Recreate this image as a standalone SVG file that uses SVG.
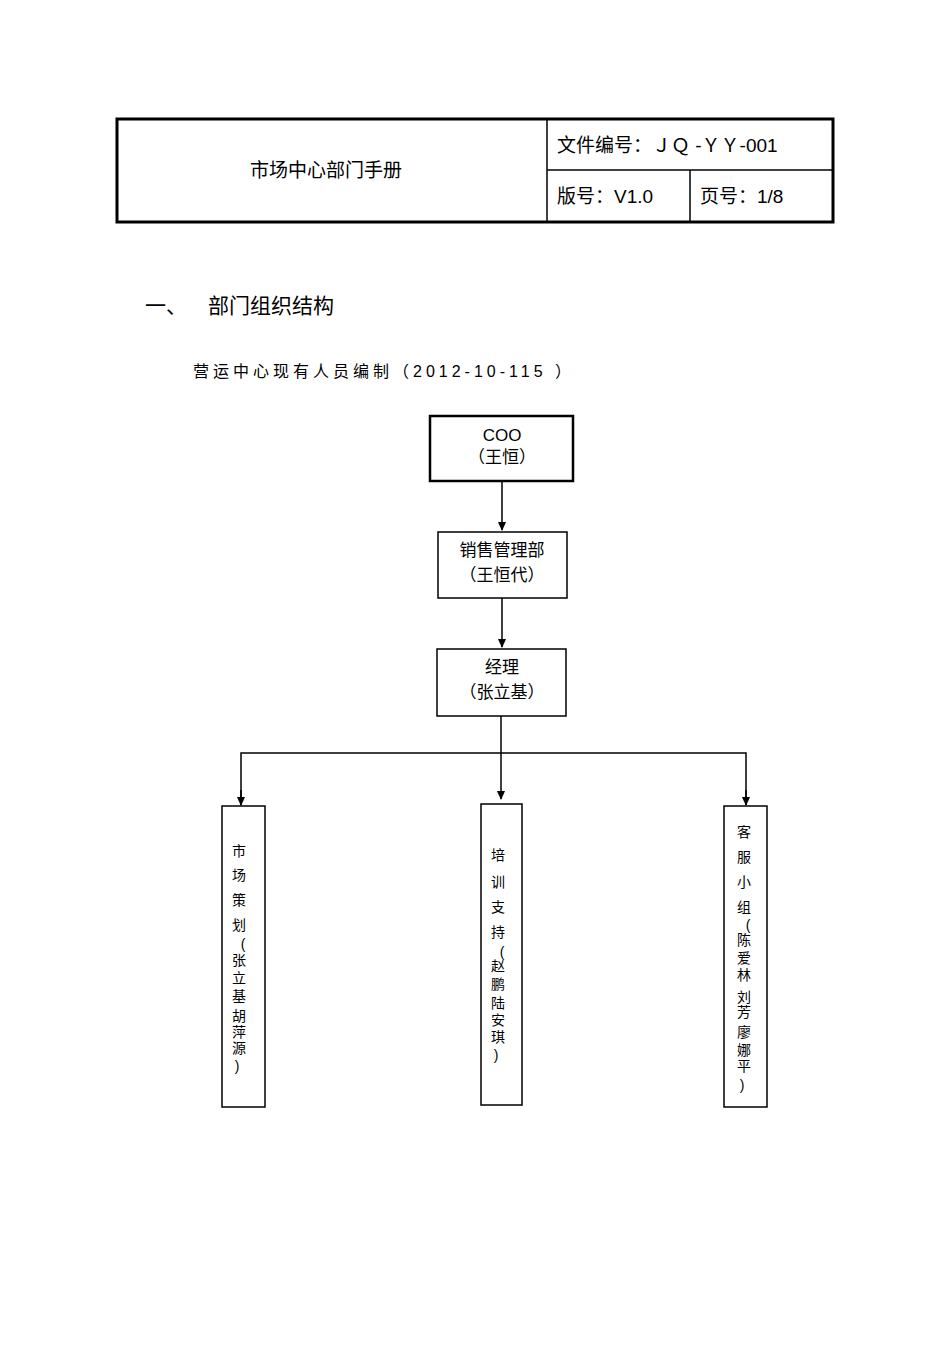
<svg xmlns="http://www.w3.org/2000/svg" width="950" height="1345" viewBox="0 0 950 1345">
<style>
text{font-family:"Liberation Sans","Noto Sans CJK SC",sans-serif;fill:#000}
.h{font-size:19px}
.n{font-size:17px;text-anchor:middle}
.v{font-size:14px;text-anchor:middle}
.box{fill:#fff;stroke:#000;stroke-width:1.5}
.ln{stroke:#000;stroke-width:1.5;fill:none}
</style>
<defs><marker id="a" markerWidth="10" markerHeight="10" refX="8" refY="5" orient="auto" markerUnits="userSpaceOnUse"><path d="M0,1 L9,5 L0,9 Z" fill="#000"/></marker></defs>
<g id="header">
<rect x="117" y="119" width="716" height="103" fill="#fff" stroke="#000" stroke-width="3"/>
<line x1="547" y1="119" x2="547" y2="222" class="ln"/>
<line x1="547" y1="170" x2="833" y2="170" class="ln"/>
<line x1="690" y1="170" x2="690" y2="222" class="ln"/>
<text x="326" y="177" class="h" text-anchor="middle">市场中心部门手册</text>
<text x="557" y="152" class="h">文件编号：ＪＱ -ＹＹ-001</text>
<text x="557" y="203" class="h">版号：V1.0</text>
<text x="700" y="203" class="h">页号：1/8</text>
</g>
<text x="145" y="313" font-size="21">一、</text>
<text x="208" y="313" font-size="21">部门组织结构</text>
<text x="193" y="377" font-size="16" letter-spacing="4">营运中心现有人员编制（2012-10-115  ）</text>
<g id="connectors">
<line x1="502" y1="481" x2="502" y2="530" class="ln" marker-end="url(#a)"/>
<line x1="502" y1="598" x2="502" y2="647" class="ln" marker-end="url(#a)"/>
<line x1="501" y1="716" x2="501" y2="799" class="ln" marker-end="url(#a)"/>
<polyline points="241,805 241,753 746,753 746,805" class="ln"/>
<line x1="241" y1="790" x2="241" y2="805" class="ln" marker-end="url(#a)"/>
<line x1="746" y1="790" x2="746" y2="805" class="ln" marker-end="url(#a)"/>
</g>
<g id="coo"><rect x="430" y="416" width="143" height="65" fill="#fff" stroke="#000" stroke-width="2.5"/>
<text x="502" y="441" class="n">COO</text><text x="502" y="463" class="n">（王恒）</text></g>
<g id="sales"><rect x="438" y="532" width="129" height="66" class="box"/>
<text x="502" y="556" class="n">销售管理部</text><text x="502" y="581" class="n">（王恒代）</text></g>
<g id="manager"><rect x="437" y="649" width="129" height="67" class="box"/>
<text x="502" y="673" class="n">经理</text><text x="502" y="698" class="n">（张立基）</text></g>
<g id="market"><rect x="222" y="806" width="43" height="301" class="box"/>
<text class="v" x="239"><tspan x="239" y="856">市</tspan><tspan x="239" y="880">场</tspan><tspan x="239" y="905">策</tspan><tspan x="239" y="930">划</tspan><tspan x="243" y="949">(</tspan><tspan x="239" y="965">张</tspan><tspan x="239" y="983">立</tspan><tspan x="239" y="1001">基</tspan><tspan x="239" y="1021">胡</tspan><tspan x="239" y="1037">萍</tspan><tspan x="239" y="1053">源</tspan><tspan x="237" y="1071">)</tspan></text></g>
<g id="training"><rect x="481" y="804" width="41" height="301" class="box"/>
<text class="v"><tspan x="498" y="860">培</tspan><tspan x="498" y="887">训</tspan><tspan x="498" y="912">支</tspan><tspan x="498" y="937">持</tspan><tspan x="502" y="957">(</tspan><tspan x="498" y="971">赵</tspan><tspan x="498" y="989">鹏</tspan><tspan x="498" y="1008">陆</tspan><tspan x="498" y="1025">安</tspan><tspan x="498" y="1042">琪</tspan><tspan x="496" y="1060">)</tspan></text></g>
<g id="service"><rect x="724" y="806" width="43" height="301" class="box"/>
<text class="v"><tspan x="744" y="837">客</tspan><tspan x="744" y="862">服</tspan><tspan x="744" y="887">小</tspan><tspan x="744" y="912">组</tspan><tspan x="748" y="930">(</tspan><tspan x="744" y="945">陈</tspan><tspan x="744" y="963">爱</tspan><tspan x="744" y="980">林</tspan><tspan x="744" y="1002">刘</tspan><tspan x="744" y="1017">芳</tspan><tspan x="744" y="1037">廖</tspan><tspan x="744" y="1055">娜</tspan><tspan x="744" y="1071">平</tspan><tspan x="742" y="1090">)</tspan></text></g>
</svg>
